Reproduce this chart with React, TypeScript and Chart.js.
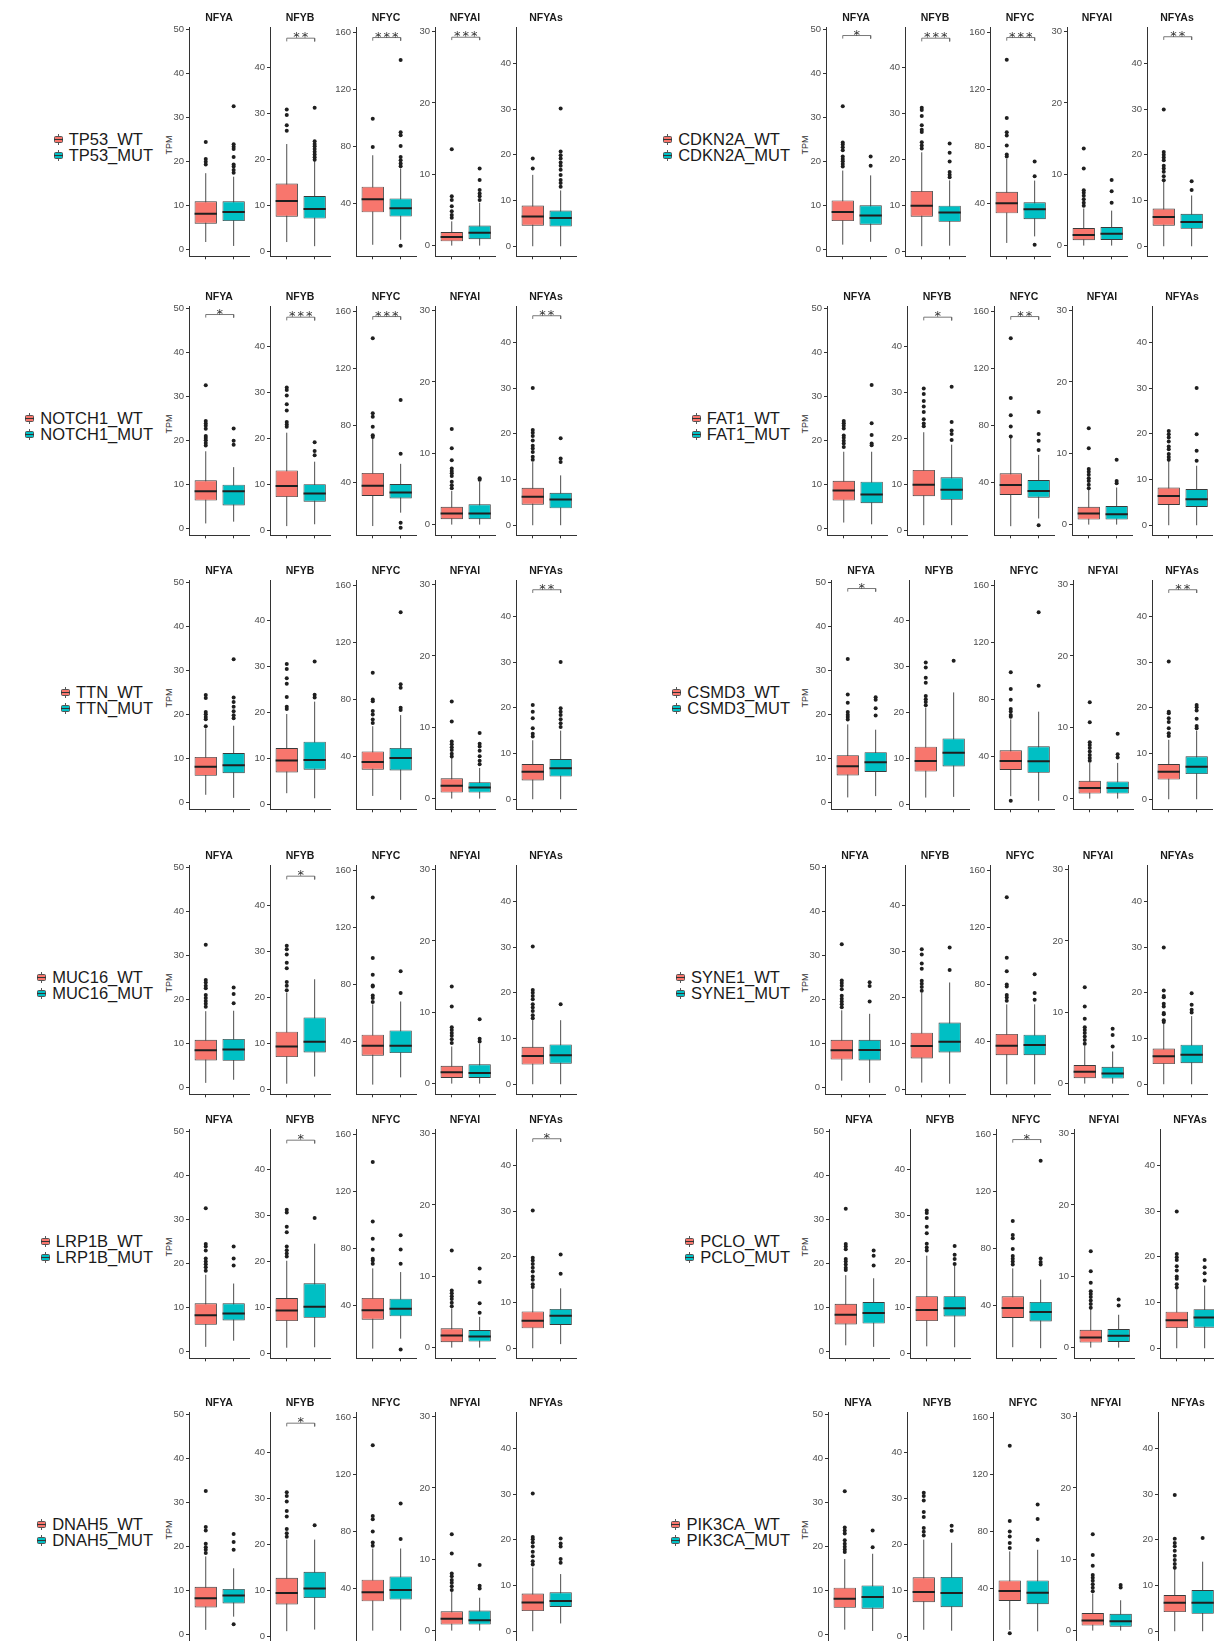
import React, { useEffect, useRef } from 'react';
import { Chart, registerables } from 'chart.js';

Chart.register(...registerables);

const FONT = '"Liberation Sans", Arial, Helvetica, sans-serif';
const STAR_FONT = '"DejaVu Sans", "Liberation Sans", Arial, sans-serif';
const WT_COLOR = '#F8766D';
const MUT_COLOR = '#00BFC4';

// ---------------- data ----------------
const SUBUNITS = ['NFYA', 'NFYB', 'NFYC', 'NFYAl', 'NFYAs'];
const Y_MIN = [-1.6, -1.1, 2.8, -1.5, -2.2];
const Y_MAX = [50.4, 48.6, 163.5, 30.55, 47.8];
const Y_TICKS = [
  [0, 10, 20, 30, 40, 50],
  [0, 10, 20, 30, 40],
  [40, 80, 120, 160],
  [0, 10, 20, 30],
  [0, 10, 20, 30, 40],
];
// height (TPM) of the significance bracket per subunit
const BRACKET_Y = [48.6, 46.3, 156.5, 29.2, 45.8];
const BRACKET_DROP = [0.7, 0.7, 2.2, 0.4, 0.7];

// box stats per subunit: [lower whisker, Q1, median, Q3, upper whisker]
const TP53_WT = [[1.65, 5.8, 8.1, 10.9, 17.3], [2.0, 7.5, 10.9, 14.7, 23.3], [10.9, 33.7, 42.8, 51.7, 73.8], [0, 0.6, 1.2, 1.9, 3.4], [0, 4.5, 6.5, 8.9, 15.6]];
const TP53_MUT = [[0.75, 6.4, 8.5, 10.9, 16.5], [1.1, 7.1, 9.2, 12.0, 19.6], [14.4, 30.7, 36.5, 43.5, 64.5], [0, 0.9, 1.8, 2.8, 6.0], [0, 4.3, 6.2, 7.8, 12.2]];
const TP53_WT_OUT = [[24.4, 20.5, 19.9, 19.3], [30.8, 29.6, 27.4, 26.2], [99.4, 79.6], [13.5, 6.9, 6.4, 5.5, 4.8, 4.3, 3.9], [19.2, 17.0]];
const TP53_MUT_OUT = [[32.5, 23.9, 23.3, 22.8, 21.0, 19.3, 18.8, 18.0, 17.4], [31.2, 23.9, 23.3, 22.8, 22.2, 21.6, 21.0, 20.4, 19.9], [140.7, 90, 87.8, 80.3, 72.6, 70.3, 68, 66, 10.2], [10.8, 9.2, 7.8, 7.3, 6.9, 6.4], [30.1, 20.7, 19.9, 19.2, 18.3, 17.6, 16.7, 15.6, 14.5, 13.8, 13.0]];
const TP53_SIG = ['', '**', '***', '***', ''];

const CDKN2A_WT = [[1.05, 6.4, 8.5, 11.1, 17.9], [1.1, 7.5, 9.9, 13.1, 21.5], [12.2, 33, 40, 48.1, 71.3], [0, 0.75, 1.5, 2.45, 5.2], [0, 4.5, 6.4, 8.25, 14.2]];
const CDKN2A_MUT = [[1.7, 5.6, 7.7, 10.0, 16.8], [1.2, 6.4, 8.4, 9.9, 15.4], [16.8, 28.9, 35.8, 40.7, 56], [0, 0.8, 1.65, 2.6, 4.9], [0, 3.8, 5.3, 7.1, 11.1]];
const CDKN2A_WT_OUT = [[32.5, 24.3, 23.8, 23.2, 22.5, 21.1, 20.5, 20.0, 19.4, 18.8], [31.2, 30.7, 29.4, 27.4, 26.4, 25.9, 23.7, 23.0, 22.3], [140.9, 99.9, 89.9, 87.6, 80.6, 74.3, 72.9], [13.6, 10.8, 7.75, 7.4, 7.0, 6.5, 6.0, 5.6], [29.9, 20.6, 20.0, 19.4, 18.8, 17.6, 17.0, 16.3, 15.3, 14.4]];
const CDKN2A_MUT_OUT = [[21.1, 19.0], [23.4, 21.4, 19.5, 17.2, 16.6, 16.1], [69.5, 59, 11], [9.2, 7.6, 6.0], [14.2, 12.3]];
const CDKN2A_SIG = ['*', '***', '***', '', '**'];

const NOTCH1_WT = [[1.1, 6.3, 8.4, 10.9, 17.5], [0.9, 7.2, 9.6, 13.0, 21.2], [9.3, 30.5, 37.6, 46.6, 71.4], [0, 0.75, 1.55, 2.5, 4.7], [0, 4.5, 6.25, 8.2, 13.8]];
const NOTCH1_MUT = [[1.5, 5.2, 8.4, 9.9, 13.9], [1.3, 6.2, 8.0, 10.0, 14.9], [18.7, 28.7, 32.9, 38.8, 53], [0, 0.75, 1.55, 2.85, 6.0], [0, 3.7, 5.6, 7.1, 10.9]];
const NOTCH1_WT_OUT = [[32.5, 24.4, 23.8, 23.3, 22.6, 21.0, 20.5, 20.0, 19.4, 18.8], [31.0, 30.5, 29.3, 27.4, 26.0, 23.5, 23.0, 22.5], [141.2, 88.5, 86.1, 79, 73.1, 71.9], [13.4, 10.7, 9.0, 7.85, 7.5, 7.2, 6.8, 6.0, 5.5, 5.1], [30, 20.8, 20.2, 19.5, 18.5, 17.4, 16.8, 16.0, 15.0, 14.3]];
const NOTCH1_MUT_OUT = [[22.7, 19.9, 19.0], [19.1, 17.2, 16.3], [97.9, 60.1, 11.6, 8.1], [6.5, 6.3], [19.0, 14.6, 13.8]];
const NOTCH1_SIG = ['*', '***', '***', '', '**'];

const FAT1_WT = [[1.3, 6.3, 8.6, 10.8, 17.4], [1.1, 7.4, 9.9, 13.1, 21.3], [9.2, 31.1, 38.1, 46.4, 71.8], [0, 0.7, 1.55, 2.5, 4.9], [0, 4.45, 6.4, 8.25, 14.1]];
const FAT1_MUT = [[0.9, 5.7, 7.7, 10.6, 17.4], [1.1, 6.6, 8.8, 11.5, 18.6], [14.6, 29.2, 33.9, 41.6, 59.3], [0, 0.7, 1.45, 2.6, 5.2], [0, 4.0, 5.7, 7.9, 13.0]];
const FAT1_WT_OUT = [[24.4, 23.9, 23.3, 22.7, 21.1, 20.6, 19.9, 19.3, 18.5], [30.8, 29.6, 28.1, 26.9, 25.7, 24.1, 23.2, 22.6], [141.2, 99.3, 87.1, 79.3, 72.2], [13.5, 10.7, 7.8, 7.4, 7.0, 6.5, 6.1, 5.6, 5.1], [20.6, 19.9, 19.2, 18.3, 17.2, 16.6, 15.6, 14.9, 14.3]];
const FAT1_MUT_OUT = [[32.6, 23.9, 21.2, 19.3, 18.9], [31.2, 23.5, 21.7, 20.9, 19.6], [89.4, 73.9, 69.2, 62.8, 9.9], [9.1, 6.1, 5.8], [30, 19.9, 16.3, 14.1]];
const FAT1_SIG = ['', '*', '**', '', ''];

const TTN_WT = [[1.7, 6.0, 8.1, 10.3, 16.8], [2.4, 6.9, 9.5, 12.2, 19.6], [12.2, 30.6, 36, 43.5, 61.2], [0, 0.85, 1.8, 2.85, 5.7], [0, 4.1, 6.0, 7.7, 12.9]];
const TTN_MUT = [[1.0, 6.6, 8.4, 11.2, 17.4], [1.3, 7.5, 9.6, 13.6, 22.3], [9.4, 30.1, 38.8, 45.9, 69], [0, 0.85, 1.55, 2.3, 4.3], [0, 4.95, 6.8, 8.8, 15.0]];
const TTN_WT_OUT = [[24.4, 23.7, 20.5, 20.0, 19.4, 18.9, 17.3], [30.5, 29.4, 27.4, 26.2, 23.3, 21.2, 20.7], [98.8, 80, 78.8, 71.8, 69.4, 65.9, 63.5], [13.6, 10.8, 8.0, 7.6, 7.2, 6.8, 6.3, 5.9], [20.6, 19.1, 17.7, 15.5, 14.3, 13.7]];
const TTN_MUT_OUT = [[32.5, 23.8, 22.8, 21.7, 20.7, 19.8, 19.1], [31.0, 23.8, 23.2], [141.2, 90.6, 88.2, 74.1, 72.5], [9.2, 7.7, 7.3, 6.7, 5.95, 5.3, 4.8], [30.0, 19.9, 19.1, 18.4, 17.5, 16.6, 15.8]];
const TTN_SIG = ['', '', '', '', '**'];

const CSMD3_WT = [[1.1, 6.1, 8.2, 10.7, 17.7], [1.45, 7.1, 9.4, 12.5, 21.0], [12, 30.5, 36.7, 44.3, 66], [0, 0.7, 1.5, 2.5, 5.0], [0, 4.3, 6.0, 7.7, 13.0]];
const CSMD3_MUT = [[1.4, 6.9, 9.1, 11.4, 16.5], [1.6, 8.2, 11.2, 14.3, 24.3], [8.8, 28.4, 36.5, 47.1, 71.4], [0, 0.7, 1.5, 2.4, 5.0], [0, 5.5, 7.1, 9.4, 15.0]];
const CSMD3_WT_OUT = [[32.6, 24.5, 22.6, 20.5, 19.9, 19.4, 18.8], [30.8, 29.7, 27.5, 26.4, 23.5, 22.8, 22.2, 21.5], [99.1, 87.3, 79.7, 73.3, 71.6, 69.1, 67.9, 8.8], [13.5, 10.7, 7.9, 7.5, 7.1, 6.6, 6.1, 5.7, 5.3], [30.1, 19.1, 18.8, 17.7, 16.9, 15.5, 14.4, 13.8]];
const CSMD3_MUT_OUT = [[23.9, 23.3, 21.4, 19.7], [31.2], [141.2, 89.6], [9.1, 6.2, 5.75], [20.6, 20.1, 19.4, 17.6, 16.0, 15.5]];
const CSMD3_SIG = ['*', '', '', '', '**'];

const MUC16_WT = [[1.0, 6.1, 8.4, 10.8, 17.3], [1.2, 7.0, 9.3, 12.5, 21.0], [9.6, 29.9, 37, 44.7, 66], [0, 0.8, 1.6, 2.5, 5.2], [0, 4.3, 6.2, 8.2, 14.0]];
const MUC16_MUT = [[1.7, 6.0, 8.6, 11.0, 17.4], [2.75, 8.0, 10.3, 15.6, 23.9], [14.7, 31.8, 37, 47.7, 68], [0, 0.8, 1.5, 2.7, 5.6], [0, 4.5, 6.35, 8.7, 14.0]];
const MUC16_WT_OUT = [[32.4, 24.4, 23.8, 23.1, 22.5, 21.0, 20.3, 19.6, 19.0, 18.3], [31.2, 30.4, 29.3, 27.5, 26.3, 23.3, 22.5, 21.5], [141, 98.5, 86.8, 79.3, 78.6, 72.3, 70.4, 67.6], [13.6, 10.8, 7.9, 7.5, 7.1, 6.7, 6.2, 5.7], [30.1, 20.6, 20.0, 19.3, 18.6, 17.5, 16.8, 16.0, 15.1, 14.4]];
const MUC16_MUT_OUT = [[22.7, 21.2, 19.1], [], [89.2, 74], [9.0, 6.3, 5.9], [17.5]];
const MUC16_SIG = ['', '*', '', '', ''];

const SYNE1_WT = [[1.5, 6.3, 8.4, 10.8, 17.5], [1.45, 6.7, 9.4, 12.3, 21.0], [9.8, 30.3, 36.9, 45.2, 66], [0, 0.75, 1.65, 2.6, 5.3], [0, 4.4, 6.1, 7.8, 13.4]];
const SYNE1_MUT = [[1.0, 6.1, 8.5, 10.8, 16.7], [1.2, 8.0, 10.3, 14.5, 23.2], [9.8, 30.3, 37.4, 44.7, 66], [0, 0.7, 1.4, 2.35, 4.5], [0, 4.6, 6.45, 8.65, 14.9]];
const SYNE1_WT_OUT = [[32.5, 24.3, 23.7, 23.1, 22.3, 20.8, 20.1, 19.5, 18.9, 18.2], [30.4, 29.3, 27.3, 26.2, 23.6, 22.9, 22.2, 21.4], [141.2, 98.7, 89.2, 79.9, 78.5, 72.5, 70.9, 68.6], [13.5, 10.8, 9.1, 7.9, 7.5, 7.1, 6.6, 6.1, 5.6], [29.9, 20.5, 19.3, 19.0, 17.6, 17.0, 15.6, 15.3, 14.0, 13.6]];
const SYNE1_MUT_OUT = [[23.9, 23.0, 19.5], [30.8, 25.9], [87.2, 74, 69.2], [7.7, 6.8, 5.2], [19.9, 17.4, 16.3, 15.7]];
const SYNE1_SIG = ['', '', '', '', ''];

const LRP1B_WT = [[1.0, 6.0, 8.2, 10.9, 17.4], [1.2, 7.0, 9.3, 12.0, 20.1], [9.6, 29.9, 36.5, 45.2, 66], [0, 0.75, 1.7, 2.7, 5.5], [0, 4.35, 6.0, 8.05, 12.9]];
const LRP1B_MUT = [[2.4, 7.0, 8.6, 10.9, 15.4], [1.3, 7.7, 10.1, 15.2, 23.8], [16.6, 32.3, 37.7, 44.7, 63.4], [0, 0.85, 1.55, 2.45, 4.3], [0.9, 5.1, 7.1, 8.6, 13.1]];
const LRP1B_WT_OUT = [[32.5, 24.4, 23.8, 22.9, 21.1, 20.4, 19.8, 19.1, 18.3], [31.2, 30.6, 27.5, 26.3, 23.2, 22.4, 21.7, 21.0], [140.7, 99, 86.8, 79.1, 72.8, 71.6, 69.3], [13.6, 8.0, 7.6, 7.2, 6.8, 6.3, 5.8], [30.1, 19.8, 19.2, 18.4, 17.6, 16.8, 15.7, 15.0, 14.0, 13.4]];
const LRP1B_MUT_OUT = [[23.8, 21.1, 19.5], [29.4], [89.2, 79.3, 69.3, 8.9], [11.1, 9.2, 6.2, 4.9], [20.5, 16.3]];
const LRP1B_SIG = ['', '*', '', '', '*'];

const PCLO_WT = [[1.35, 6.1, 8.3, 10.8, 17.3], [1.5, 7.0, 9.4, 12.4, 21.2], [10.6, 31.1, 38.1, 46.4, 66], [0, 0.7, 1.4, 2.5, 5.4], [0, 4.4, 6.1, 8.0, 12.9]];
const PCLO_MUT = [[1.0, 6.3, 8.7, 11.2, 16.6], [1.3, 8.0, 9.8, 12.4, 19.0], [9.9, 28.7, 35.3, 42.4, 58.1], [0, 0.8, 1.65, 2.6, 4.6], [0, 4.5, 6.7, 8.55, 13.7]];
const PCLO_WT_OUT = [[32.4, 24.4, 23.8, 23.2, 21.0, 20.4, 19.7, 19.0, 18.5], [31.0, 30.5, 29.4, 27.5, 26.1, 23.8, 23.0, 22.3], [99.3, 89.4, 87.1, 79.6, 74.6, 72.7, 70.9, 68.7], [13.5, 10.7, 9.1, 7.9, 7.5, 7.1, 6.6, 6.1, 5.6], [29.9, 20.6, 19.9, 19.3, 17.9, 17.0, 15.7, 15.2, 14.0, 13.3]];
const PCLO_MUT_OUT = [[22.9, 21.7, 19.5], [23.3, 21.4, 20.5, 19.4], [141.6, 72.9, 70.4, 68.7], [6.75, 5.9], [19.3, 17.7, 16.4, 14.8]];
const PCLO_SIG = ['', '', '*', '', ''];

const DNAH5_WT = [[1.0, 6.1, 8.2, 10.8, 17.7], [1.1, 6.9, 9.4, 12.7, 21.0], [10.3, 30.9, 37.2, 46.1, 68], [0, 0.85, 1.65, 2.7, 5.5], [0, 4.4, 6.3, 8.25, 13.9]];
const DNAH5_MUT = [[4.0, 7.0, 8.8, 10.3, 15.0], [1.45, 8.3, 10.4, 14.0, 21.0], [10.3, 32.1, 38.8, 48.4, 68], [0, 0.85, 1.45, 2.8, 4.6], [1.7, 5.3, 6.6, 8.5, 12.5]];
const DNAH5_WT_OUT = [[32.6, 24.4, 23.6, 20.6, 19.8, 19.2, 18.5], [31.3, 30.5, 29.3, 27.2, 26.0, 23.3, 22.4, 21.6], [140.5, 90.9, 88.6, 80, 72.2, 69.9], [13.5, 10.8, 8.0, 7.6, 7.1, 6.7, 6.2, 5.7], [30.1, 20.6, 20.1, 19.4, 18.5, 17.4, 16.4, 15.3, 14.6]];
const DNAH5_MUT_OUT = [[22.8, 21.0, 19.2, 2.3], [24.1], [99.6, 74.6], [9.2, 6.3, 5.9], [20.3, 19.2, 18.5, 15.8, 15.0]];
const DNAH5_SIG = ['', '*', '', '', ''];

const PIK3CA_WT = [[1.05, 6.0, 8.1, 10.6, 17.1], [1.4, 7.4, 9.6, 12.8, 21.0], [10.8, 31.2, 38.1, 45.6, 66], [0, 0.7, 1.4, 2.45, 5.2], [0, 4.2, 6.25, 7.9, 13.6]];
const PIK3CA_MUT = [[0.75, 5.8, 8.5, 11.1, 18.3], [1.2, 6.3, 9.4, 12.9, 20.3], [9.8, 28.9, 37, 45.6, 67.1], [0, 0.55, 1.3, 2.35, 4.25], [0, 3.8, 6.25, 9.0, 15.2]];
const PIK3CA_WT_OUT = [[32.5, 24.3, 23.6, 22.9, 21.4, 20.6, 19.9, 19.3, 18.7], [31.2, 30.5, 29.5, 27.0, 25.9, 23.5, 22.7, 21.9], [140.2, 87.3, 79.9, 76.4, 71.8, 68.3, 8.5], [13.5, 10.6, 9.1, 7.8, 7.4, 7.0, 6.5, 6.0, 5.5], [29.8, 20.2, 19.3, 18.6, 17.6, 16.5, 15.6, 14.7, 13.9]];
const PIK3CA_MUT_OUT = [[23.6, 19.8], [24.0, 22.9], [98.9, 88.7, 74.1], [6.4, 6.05], [20.4]];
const PIK3CA_SIG = ['', '', '', '', ''];

type Group = { gene: string; wt: number[][]; mut: number[][]; wtOut: number[][]; mutOut: number[][]; sig: string[] };

const LEFT_GROUPS: Group[] = [
  { gene: 'TP53', wt: TP53_WT, mut: TP53_MUT, wtOut: TP53_WT_OUT, mutOut: TP53_MUT_OUT, sig: TP53_SIG },
  { gene: 'NOTCH1', wt: NOTCH1_WT, mut: NOTCH1_MUT, wtOut: NOTCH1_WT_OUT, mutOut: NOTCH1_MUT_OUT, sig: NOTCH1_SIG },
  { gene: 'TTN', wt: TTN_WT, mut: TTN_MUT, wtOut: TTN_WT_OUT, mutOut: TTN_MUT_OUT, sig: TTN_SIG },
  { gene: 'MUC16', wt: MUC16_WT, mut: MUC16_MUT, wtOut: MUC16_WT_OUT, mutOut: MUC16_MUT_OUT, sig: MUC16_SIG },
  { gene: 'LRP1B', wt: LRP1B_WT, mut: LRP1B_MUT, wtOut: LRP1B_WT_OUT, mutOut: LRP1B_MUT_OUT, sig: LRP1B_SIG },
  { gene: 'DNAH5', wt: DNAH5_WT, mut: DNAH5_MUT, wtOut: DNAH5_WT_OUT, mutOut: DNAH5_MUT_OUT, sig: DNAH5_SIG },
];
const RIGHT_GROUPS: Group[] = [
  { gene: 'CDKN2A', wt: CDKN2A_WT, mut: CDKN2A_MUT, wtOut: CDKN2A_WT_OUT, mutOut: CDKN2A_MUT_OUT, sig: CDKN2A_SIG },
  { gene: 'FAT1', wt: FAT1_WT, mut: FAT1_MUT, wtOut: FAT1_WT_OUT, mutOut: FAT1_MUT_OUT, sig: FAT1_SIG },
  { gene: 'CSMD3', wt: CSMD3_WT, mut: CSMD3_MUT, wtOut: CSMD3_WT_OUT, mutOut: CSMD3_MUT_OUT, sig: CSMD3_SIG },
  { gene: 'SYNE1', wt: SYNE1_WT, mut: SYNE1_MUT, wtOut: SYNE1_WT_OUT, mutOut: SYNE1_MUT_OUT, sig: SYNE1_SIG },
  { gene: 'PCLO', wt: PCLO_WT, mut: PCLO_MUT, wtOut: PCLO_WT_OUT, mutOut: PCLO_MUT_OUT, sig: PCLO_SIG },
  { gene: 'PIK3CA', wt: PIK3CA_WT, mut: PIK3CA_MUT, wtOut: PIK3CA_WT_OUT, mutOut: PIK3CA_MUT_OUT, sig: PIK3CA_SIG },
];

// ---------------- layout ----------------
const ROW_TITLE_Y = [18, 297, 571, 856, 1120, 1403];
const LEFT_AXIS_X = [189, 270, 356, 435, 516];
const RIGHT_AXIS_X = [
  [826, 905, 990, 1067, 1147],
  [827, 907, 994, 1072, 1152],
  [831, 909, 994, 1073, 1152],
  [825, 905, 990, 1068, 1147],
  [829, 910, 996, 1074, 1160],
  [828, 907, 993, 1076, 1158],
];
const PANEL_W = 62;
const AXIS_W = [17, 17, 21, 17, 17];
const CANVAS_H = 252;
const BOX_W = 0.8;
const X_MIN = 0.4;
const X_MAX = 2.55;

type SubProps = { group: Group; idx: number; axisX: number; titleY: number };

function SubChart({ group, idx, axisX, titleY }: SubProps) {
  const ref = useRef<HTMLCanvasElement | null>(null);
  const aw = AXIS_W[idx];
  const w = aw + PANEL_W + 2;

  useEffect(() => {
    const wt = group.wt[idx];
    const mut = group.mut[idx];
    const h = BOX_W / 2;
    const sig = group.sig[idx];
    const ticks = Y_TICKS[idx];

    const outliers = [
      ...group.wtOut[idx].map((v) => ({ x: 1, y: v })),
      ...group.mutOut[idx].map((v) => ({ x: 2, y: v })),
    ];
    const medians = [
      { x: 1 - h, y: wt[2] }, { x: 1 + h, y: wt[2] }, { x: 1.5, y: null },
      { x: 2 - h, y: mut[2] }, { x: 2 + h, y: mut[2] },
    ];
    const whiskers = [
      { x: 1, y: wt[0] }, { x: 1, y: wt[4] }, { x: 1.5, y: null },
      { x: 2, y: mut[0] }, { x: 2, y: mut[4] },
    ];
    const boxes = [
      { x: 1, y: [wt[1], wt[3]] },
      { x: 2, y: [mut[1], mut[3]] },
    ];

    const datasets: any[] = [
      { type: 'scatter', data: outliers, pointRadius: 2, pointBackgroundColor: '#1f1f1f', pointBorderWidth: 0, order: 0 },
      { type: 'line', data: medians, borderColor: '#1f1f1f', borderWidth: 2, pointRadius: 0, fill: false, spanGaps: false, order: 1 },
      {
        type: 'bar', data: boxes, backgroundColor: [WT_COLOR, MUT_COLOR], borderColor: '#3a3a3a', borderWidth: 0.9,
        borderSkipped: false, barPercentage: BOX_W, categoryPercentage: 1, order: 2,
      },
      { type: 'line', data: whiskers, borderColor: '#3a3a3a', borderWidth: 0.9, pointRadius: 0, fill: false, spanGaps: false, order: 3 },
    ];
    if (sig) {
      const b = BRACKET_Y[idx];
      const d = BRACKET_DROP[idx];
      datasets.push({
        type: 'line',
        data: [{ x: 1, y: b - d }, { x: 1, y: b }, { x: 2, y: b }, { x: 2, y: b - d }],
        borderColor: '#6a6a6a', borderWidth: 0.9, pointRadius: 0, fill: false, order: 4,
      });
    }

    const sigPlugin = {
      id: 'sigStars',
      afterDatasetsDraw(chart: any) {
        if (!sig) return;
        const { ctx, scales } = chart;
        const x = scales.x.getPixelForValue(1.5);
        const y = scales.y.getPixelForValue(BRACKET_Y[idx]);
        ctx.save();
        ctx.font = `13px ${STAR_FONT}`;
        (ctx as any).letterSpacing = '2px';
        ctx.fillStyle = '#333333';
        ctx.textAlign = 'center';
        ctx.textBaseline = 'alphabetic';
        ctx.fillText(sig, x + 1, y + 3);
        ctx.restore();
      },
    };

    const chart = new Chart(ref.current as HTMLCanvasElement, {
      type: 'bar',
      data: { datasets },
      plugins: [sigPlugin],
      options: {
        responsive: false,
        animation: false,
        events: [],
        devicePixelRatio: 1,
        layout: { padding: { top: 0, left: 0, right: 2, bottom: 4 } },
        plugins: {
          legend: { display: false },
          tooltip: { enabled: false },
          title: {
            display: true,
            text: SUBUNITS[idx],
            fullSize: false,
            color: '#1a1a1a',
            font: { family: FONT, size: 10.5, weight: 'bold', lineHeight: 1.2 },
            padding: { top: 0, bottom: 3 },
          },
        },
        scales: {
          x: {
            type: 'linear',
            offset: false,
            min: X_MIN,
            max: X_MAX,
            afterBuildTicks: (s: any) => { s.ticks = [{ value: 1 }, { value: 2 }]; },
            ticks: { display: false },
            grid: { offset: false, drawOnChartArea: false, drawTicks: true, tickLength: 3, color: '#333333', lineWidth: 1 },
            border: { display: true, color: '#333333', width: 1 },
          },
          y: {
            type: 'linear',
            min: Y_MIN[idx],
            max: Y_MAX[idx],
            afterBuildTicks: (s: any) => { s.ticks = ticks.map((v) => ({ value: v })); },
            afterFit: (s: any) => { s.width = aw; },
            ticks: {
              autoSkip: false,
              padding: 2,
              color: '#4d4d4d',
              font: { family: FONT, size: 9.5 },
              callback: (v: any) => String(v),
            },
            grid: { drawOnChartArea: false, drawTicks: true, tickLength: 3, color: '#333333', lineWidth: 1 },
            border: { display: true, color: '#333333', width: 1 },
          },
        },
      } as any,
    } as any);
    return () => chart.destroy();
  }, [group, idx, aw]);

  return (
    <canvas
      ref={ref}
      width={w}
      height={CANVAS_H}
      style={{ position: 'absolute', left: axisX - aw, top: titleY - 6, width: w, height: CANVAS_H }}
    />
  );
}

function LegendKey({ color }: { color: string }) {
  return (
    <span style={{ position: 'relative', display: 'inline-block', width: 9, height: 11, marginRight: 6 }}>
      <span style={{ position: 'absolute', left: 4, top: 0, width: 1, height: 11, background: '#555' }} />
      <span
        style={{
          position: 'absolute', left: 0, top: 2, width: 9, height: 7, boxSizing: 'border-box',
          background: color, border: '0.8px solid #555', borderRadius: 1.5,
        }}
      />
      <span style={{ position: 'absolute', left: 0, top: 5, width: 9, height: 1.2, background: '#333' }} />
    </span>
  );
}

function GroupPanel({ group, row, side }: { group: Group; row: number; side: 'L' | 'R' }) {
  const titleY = ROW_TITLE_Y[row];
  const axisXs = side === 'L' ? LEFT_AXIS_X : RIGHT_AXIS_X[row];
  const legendRight = side === 'L' ? 153 : 790;
  const tpmX = side === 'L' ? 169 : 805;
  const midY = titleY + 129;
  return (
    <>
      <div
        style={{
          position: 'absolute', right: 1214 - legendRight, top: midY - 16,
          fontFamily: FONT, fontSize: 16.5, color: '#1a1a1a', lineHeight: '16px',
        }}
      >
        <div style={{ display: 'flex', alignItems: 'center', height: 16 }}>
          <LegendKey color={WT_COLOR} />
          <span>{group.gene}_WT</span>
        </div>
        <div style={{ display: 'flex', alignItems: 'center', height: 16 }}>
          <LegendKey color={MUT_COLOR} />
          <span>{group.gene}_MUT</span>
        </div>
      </div>
      <div
        style={{
          position: 'absolute', left: tpmX - 20, top: titleY + 127 - 5, width: 40, height: 10,
          fontFamily: FONT, fontSize: 9, color: '#333', textAlign: 'center', lineHeight: '10px',
          transform: 'rotate(-90deg)',
        }}
      >
        TPM
      </div>
      {SUBUNITS.map((_, i) => (
        <SubChart key={i} group={group} idx={i} axisX={axisXs[i]} titleY={titleY} />
      ))}
    </>
  );
}

export default function App() {
  return (
    <div
      style={{
        position: 'absolute', left: 0, top: 0, width: 1214, height: 1641,
        overflow: 'hidden', background: '#ffffff',
      }}
    >
      {LEFT_GROUPS.map((g, r) => (
        <GroupPanel key={g.gene} group={g} row={r} side="L" />
      ))}
      {RIGHT_GROUPS.map((g, r) => (
        <GroupPanel key={g.gene} group={g} row={r} side="R" />
      ))}
    </div>
  );
}
